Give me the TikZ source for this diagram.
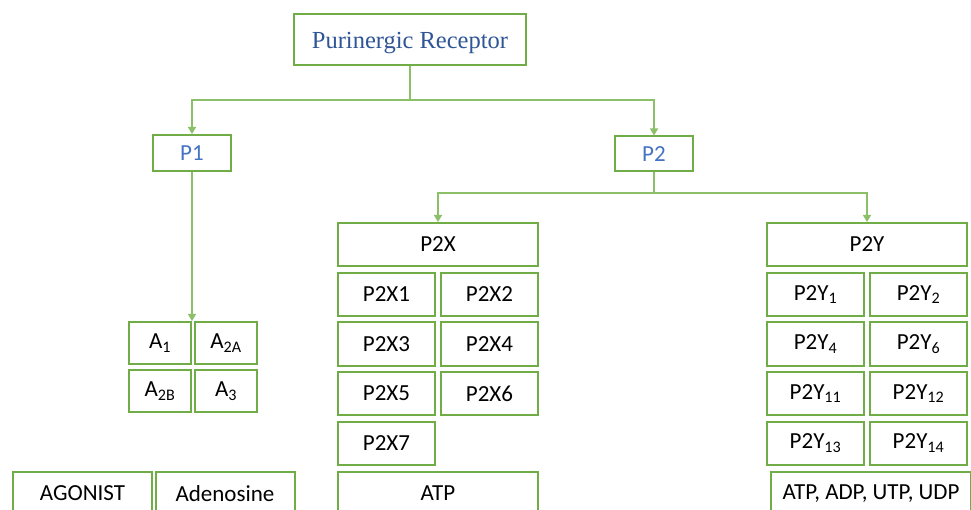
\documentclass[tikz,border=0pt]{standalone}
\usepackage{fontspec}
\setmainfont{Carlito}
\newfontfamily\titlefont{Liberation Serif}
\usetikzlibrary{arrows.meta}
\definecolor{boxgreen}{HTML}{70AD47}
\definecolor{linkgreen}{HTML}{8CC068}
\definecolor{titleblue}{HTML}{2F5597}
\definecolor{levelblue}{HTML}{4472C4}
\begin{document}
\begin{tikzpicture}[x=1pt,y=-1pt,
    box/.style={draw=boxgreen, line width=2pt, fill=white, inner sep=0pt,
      font=\fontsize{23}{27}\selectfont},
    link/.style={draw=linkgreen, line width=1.5pt},
    arrow/.style={link, -{Triangle[width=8pt,length=7pt]}}]

        \useasboundingbox (0,0) rectangle (971,510);

        % top levels
        \node[box, minimum width=232pt, minimum height=51pt, text=titleblue,
          text height=19pt, text depth=0pt,
          font=\titlefont\fontsize{24.5}{28}\selectfont] (root) at (410,39.5) {Purinergic Receptor};
        \node[box, minimum width=78pt, minimum height=36pt, text=levelblue] (p1) at (192,153) {P1};
        \node[box, minimum width=78pt, minimum height=35pt, text=levelblue] (p2) at (654,154) {P2};

        % P1 family
        \begin{scope}[every node/.style={box, minimum width=62pt, minimum height=42pt}]
          \node (a1)  at (160,343) {A\textsubscript{1}};
          \node (a2a) at (226,343) {A\textsubscript{2A}};
          \node (a2b) at (160,391) {A\textsubscript{2B}};
          \node (a3)  at (226,391) {A\textsubscript{3}};
        \end{scope}

        \begin{scope}[every node/.style={box, minimum width=139pt, minimum height=43pt}]
          \node (agonist)   at (82.5,493.5) {AGONIST};
          \node (adenosine) at (225,493.5)  {Adenosine};
        \end{scope}

        % P2X family
        \node[box, minimum width=200pt, minimum height=43pt] (p2x) at (438,244.5) {P2X};
        \begin{scope}[every node/.style={box, minimum width=97pt, minimum height=43pt}]
          \node (p2x1) at (386.5,294.5) {P2X1};
          \node (p2x2) at (489.5,294.5) {P2X2};
          \node (p2x3) at (386.5,344)   {P2X3};
          \node (p2x4) at (489.5,344)   {P2X4};
          \node (p2x5) at (386.5,393.5) {P2X5};
          \node (p2x6) at (489.5,393.5) {P2X6};
          \node (p2x7) at (386.5,443)   {P2X7};
        \end{scope}
        \node[box, minimum width=200pt, minimum height=43pt] (atp) at (438,493.5) {ATP};

        % P2Y family
        \node[box, minimum width=200pt, minimum height=43pt] (p2y) at (867,244.5) {P2Y};
        \begin{scope}[every node/.style={box, minimum width=97pt, minimum height=43pt}]
          \node (p2y1)  at (815.5,294.5) {P2Y\textsubscript{1}};
          \node (p2y2)  at (918.5,294.5) {P2Y\textsubscript{2}};
          \node (p2y4)  at (815.5,344)   {P2Y\textsubscript{4}};
          \node (p2y6)  at (918.5,344)   {P2Y\textsubscript{6}};
          \node (p2y11) at (815.5,393.5) {P2Y\textsubscript{11}};
          \node (p2y12) at (918.5,393.5) {P2Y\textsubscript{12}};
          \node (p2y13) at (815.5,443)   {P2Y\textsubscript{13}};
          \node (p2y14) at (918.5,443)   {P2Y\textsubscript{14}};
        \end{scope}
        \node[box, minimum width=200pt, minimum height=43pt] (nucleotides) at (871,493.5) {ATP, ADP, UTP, UDP};

        % connectors
        \coordinate (rootsplit) at (410,100);
        \coordinate (p2split) at (654,193);
        \draw[link] (root) -- (rootsplit);
        \draw[arrow] (rootsplit) -| (p1);
        \draw[arrow] (rootsplit) -| (p2);
        \draw[arrow] (p1) -- (p1 |- a1.north);
        \draw[link] (p2) -- (p2split);
        \draw[arrow] (p2split) -| (p2x);
        \draw[arrow] (p2split) -| (p2y);

      \end{tikzpicture}
\end{document}
